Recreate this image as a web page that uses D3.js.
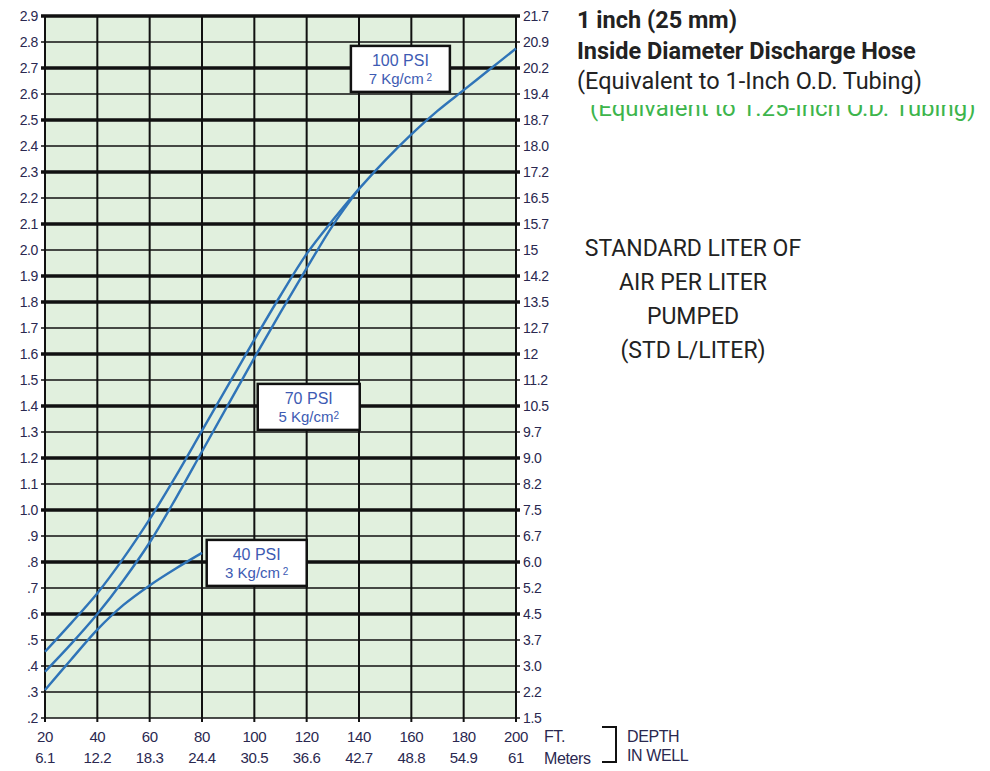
<!DOCTYPE html>
<html>
<head>
<meta charset="utf-8">
<script src="https://cdn.jsdelivr.net/npm/d3@7"></script>
<style>
  body { margin: 0; background: #fff; }
  svg { display: block; }
  .tick-lbl { font-family: "Liberation Sans", Arial, sans-serif; font-size: 14px; fill: #2a2850; letter-spacing: -0.4px; }
  .box-lbl { font-family: "Liberation Sans Narrow", "Liberation Sans", sans-serif; font-size: 16px; fill: #3d5bb3; }
  .note { font-family: Roboto, sans-serif; fill: #222; }
</style>
</head>
<body>
<script>
// depth in well (ft) and the matching metres
var depthFt = [20, 40, 60, 80, 100, 120, 140, 160, 180, 200];
var depthM = ["6.1", "12.2", "18.3", "24.4", "30.5", "36.6", "42.7", "48.8", "54.9", "61"];

// left axis (ratio) and right axis labels
var ratioTicks = [0.2, 0.3, 0.4, 0.5, 0.6, 0.7, 0.8, 0.9, 1.0, 1.1, 1.2, 1.3, 1.4, 1.5, 1.6, 1.7, 1.8, 1.9, 2.0, 2.1, 2.2, 2.3, 2.4, 2.5, 2.6, 2.7, 2.8, 2.9];
var leftLabels = [".2", ".3", ".4", ".5", ".6", ".7", ".8", ".9", "1.0", "1.1", "1.2", "1.3", "1.4", "1.5", "1.6", "1.7", "1.8", "1.9", "2.0", "2.1", "2.2", "2.3", "2.4", "2.5", "2.6", "2.7", "2.8", "2.9"];
var rightLabels = ["1.5", "2.2", "3.0", "3.7", "4.5", "5.2", "6.0", "6.7", "7.5", "8.2", "9.0", "9.7", "10.5", "11.2", "12", "12.7", "13.5", "14.2", "15", "15.7", "16.5", "17.2", "18.0", "18.7", "19.4", "20.2", "20.9", "21.7"];
var heavyLines = [0.6, 0.8, 1.0, 1.2, 1.4, 1.6, 1.8, 1.9, 2.1, 2.3, 2.5, 2.7, 2.9];

// curves: [ft, ratio]
var psi100 = [[20, 0.455], [30, 0.565], [40, 0.68], [50, 0.815], [60, 0.965], [70, 1.13], [80, 1.305], [90, 1.48], [100, 1.655], [110, 1.825], [120, 1.985], [130, 2.115], [140, 2.235], [150, 2.345], [160, 2.445], [170, 2.535], [180, 2.615], [190, 2.695], [200, 2.775]];
var psi70 = [[20, 0.378], [30, 0.485], [40, 0.60], [50, 0.73], [60, 0.875], [70, 1.045], [80, 1.225], [90, 1.405], [100, 1.585], [110, 1.76], [120, 1.93], [130, 2.095], [140, 2.235]];
var psi40 = [[20, 0.308], [30, 0.425], [40, 0.54], [50, 0.635], [60, 0.71], [70, 0.775], [80, 0.835]];

// boxes: label lines + where the box sits (ft, ratio of its top-left corner)
var boxes = [
  {l1: "100 PSI", l2: "7 Kg/cm", sup: " 2", ft: 136.9, r: 2.785, w: 99},
  {l1: "70 PSI", l2: "5 Kg/cm", sup: "2", ft: 101.3, r: 1.485, w: 102},
  {l1: "40 PSI", l2: "3 Kg/cm", sup: " 2", ft: 81.8, r: 0.885, w: 100}
];

var width = 990, height = 771;
var svg = d3.select("body").append("svg")
    .attr("width", width)
    .attr("height", height);

var x = d3.scaleLinear().domain([20, 200]).range([45, 516]);
var y = d3.scaleLinear().domain([0.2, 2.9]).range([718, 16]);

svg.append("rect")
    .attr("x", x(20)).attr("y", y(2.9))
    .attr("width", x(200) - x(20)).attr("height", y(0.2) - y(2.9))
    .attr("fill", "#e1f0de");

// vertical grid
svg.selectAll(".vgrid")
    .data(depthFt).enter()
    .append("line")
    .attr("x1", function(d){ return x(d); })
    .attr("x2", function(d){ return x(d); })
    .attr("y1", y(2.9))
    .attr("y2", y(0.2) + 4)
    .attr("stroke", "#111")
    .attr("stroke-width", 2);

// horizontal grid, with ticks sticking out both sides
svg.selectAll(".hgrid")
    .data(ratioTicks).enter()
    .append("line")
    .attr("x1", x(20) - 4)
    .attr("x2", x(200) + 4)
    .attr("y1", function(d){ return y(d); })
    .attr("y2", function(d){ return y(d); })
    .attr("stroke", "#111")
    .attr("stroke-width", function(d){
      return heavyLines.some(function(h){ return Math.abs(h - d) < 1e-6; }) ? 3.6 : 1.6;
    });

// curves
var line = d3.line()
    .x(function(d){ return x(d[0]); })
    .y(function(d){ return y(d[1]); })
    .curve(d3.curveCatmullRom);

[psi100, psi70, psi40].forEach(function(s){
  svg.append("path")
      .datum(s)
      .attr("d", line)
      .attr("fill", "none")
      .attr("stroke", "#2f74b8")
      .attr("stroke-width", 2.4);
});

// label boxes
boxes.forEach(function(b){
  var bx = x(b.ft), by = y(b.r);
  var g = svg.append("g").attr("transform", "translate(" + bx + "," + by + ")");
  g.append("rect")
      .attr("width", b.w).attr("height", 46)
      .attr("fill", "#fff")
      .attr("stroke", "#111")
      .attr("stroke-width", 2.5);
  g.append("text").attr("class", "box-lbl")
      .attr("x", b.w / 2).attr("y", 20)
      .attr("text-anchor", "middle")
      .text(b.l1);
  var t = g.append("text").attr("class", "box-lbl")
      .attr("x", b.w / 2).attr("y", 38)
      .attr("text-anchor", "middle")
      .style("font-size", "15px");
  t.append("tspan").text(b.l2);
  t.append("tspan").attr("dy", -3).style("font-size", "10px").text(b.sup);
});

// left labels
svg.selectAll(".ll")
    .data(ratioTicks).enter()
    .append("text").attr("class", "tick-lbl")
    .attr("x", 38)
    .attr("y", function(d){ return y(d); })
    .attr("dy", "0.35em")
    .attr("text-anchor", "end")
    .text(function(d, i){ return leftLabels[i]; });

// right labels
svg.selectAll(".rl")
    .data(ratioTicks).enter()
    .append("text").attr("class", "tick-lbl")
    .attr("x", 523)
    .attr("y", function(d){ return y(d); })
    .attr("dy", "0.35em")
    .text(function(d, i){ return rightLabels[i]; });

// bottom labels
svg.selectAll(".bf")
    .data(depthFt).enter()
    .append("text").attr("class", "tick-lbl")
    .attr("x", function(d){ return x(d); })
    .attr("y", 742)
    .attr("text-anchor", "middle")
    .style("font-size", "15px")
    .text(function(d){ return d; });

svg.selectAll(".bm")
    .data(depthFt).enter()
    .append("text").attr("class", "tick-lbl")
    .attr("x", function(d){ return x(d); })
    .attr("y", 763)
    .attr("text-anchor", "middle")
    .style("font-size", "15px")
    .text(function(d, i){ return depthM[i]; });

svg.append("text").attr("class", "tick-lbl").attr("x", 544).attr("y", 742).style("font-size", "16px").text("FT.");
svg.append("text").attr("class", "tick-lbl").attr("x", 544).attr("y", 764).style("font-size", "16px").text("Meters");

svg.append("path")
    .attr("d", "M602,727 H616 V762 H602")
    .attr("fill", "none")
    .attr("stroke", "#111")
    .attr("stroke-width", 2);
svg.append("text").attr("class", "tick-lbl").attr("x", 627).attr("y", 742).style("font-size", "16px").text("DEPTH");
svg.append("text").attr("class", "tick-lbl").attr("x", 627).attr("y", 761).style("font-size", "16px").text("IN WELL");

// heading on the right (the green line is partly hidden in the source)
svg.append("defs").append("clipPath").attr("id", "cut")
  .append("rect").attr("x", 570).attr("y", 105).attr("width", 420).attr("height", 30);
svg.append("text")
    .attr("clip-path", "url(#cut)")
    .attr("x", 590).attr("y", 116)
    .style("font-family", "Roboto, sans-serif")
    .style("font-size", "24px")
    .attr("fill", "#3db54c")
    .text("(Equivalent to 1.25-Inch O.D. Tubing)");

svg.append("text").attr("class", "note").attr("x", 577).attr("y", 28)
    .style("font-size", "23.5px").style("font-weight", "bold").text("1 inch (25 mm)");
svg.append("text").attr("class", "note").attr("x", 577).attr("y", 59)
    .style("font-size", "23.5px").style("font-weight", "bold").text("Inside Diameter Discharge Hose");
svg.append("text").attr("class", "note").attr("x", 577).attr("y", 89)
    .style("font-size", "23.5px").text("(Equivalent to 1-Inch O.D. Tubing)");

var unitLines = ["STANDARD LITER OF", "AIR PER LITER", "PUMPED", "(STD L/LITER)"];
svg.selectAll(".unit")
    .data(unitLines).enter()
    .append("text").attr("class", "note")
    .attr("x", 693)
    .attr("y", function(d, i){ return 256 + i * 34; })
    .attr("text-anchor", "middle")
    .style("font-size", "23px")
    .text(function(d){ return d; });
</script>
</body>
</html>
